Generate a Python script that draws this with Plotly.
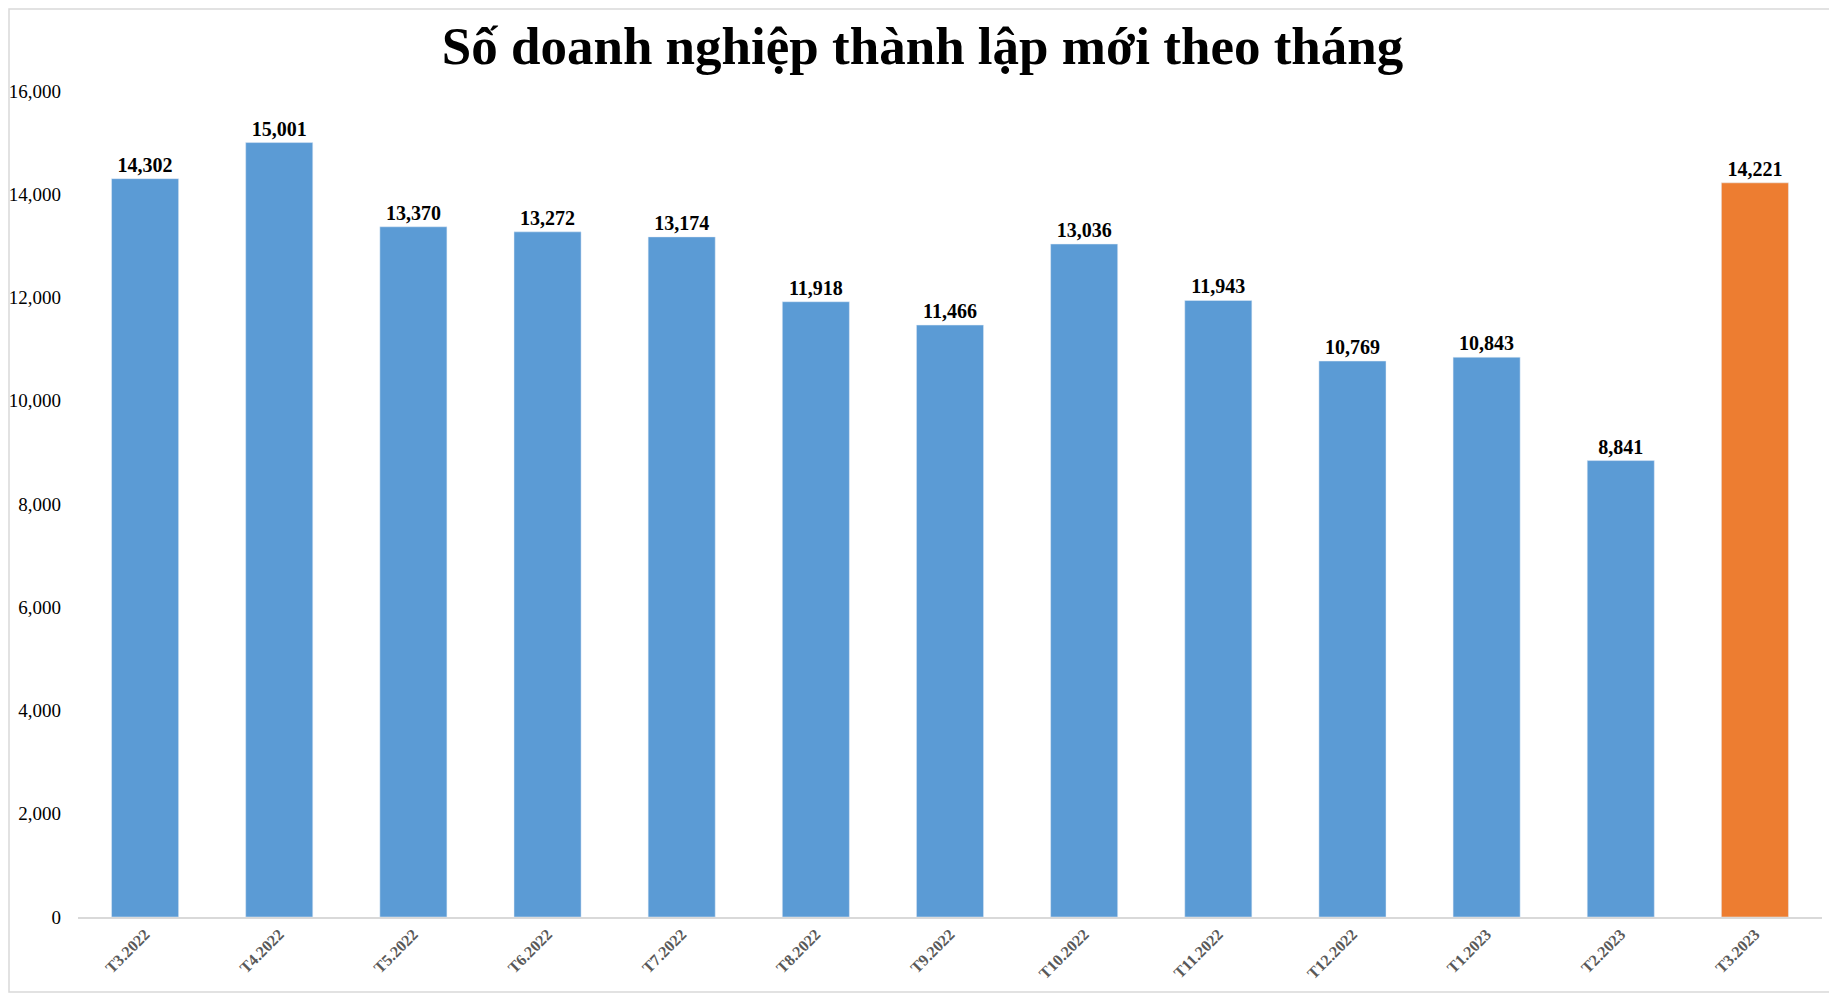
import plotly.graph_objects as go

months = ["T3.2022", "T4.2022", "T5.2022", "T6.2022", "T7.2022", "T8.2022", "T9.2022",
          "T10.2022", "T11.2022", "T12.2022", "T1.2023", "T2.2023", "T3.2023"]
new_firms = [14302, 15001, 13370, 13272, 13174, 11918, 11466,
             13036, 11943, 10769, 10843, 8841, 14221]
bar_colors = ["#5B9BD5"] * 12 + ["#ED7D31"]

# page has an 8px body margin, so the figure is shrunk to fit the window
W, H = 1837 - 8, 994 - 8
ml, mr, mt, mb = 70, 15, 83, 77

fig = go.Figure(go.Bar(
    x=months,
    y=new_firms,
    marker_color=bar_colors,
    text=[f"{v:,}" for v in new_firms],
    textposition="outside",
    cliponaxis=False,
    textfont=dict(family="Liberation Serif", size=20, color="black", weight="bold"),
))

fig.update_layout(
    width=W, height=H,
    margin=dict(l=ml, r=mr, t=mt, b=mb),
    paper_bgcolor="white",
    plot_bgcolor="white",
    bargap=0.5,
    showlegend=False,
    title=dict(
        text="<b>Số doanh nghiệp thành lập mới theo tháng</b>",
        x=0.5, xanchor="center", y=1 - 37 / H, yanchor="middle",
        font=dict(family="Liberation Serif", size=53, color="black"),
    ),
    font=dict(family="Liberation Serif", color="black"),
)

fig.update_yaxes(
    range=[0, 16000], dtick=2000, tickformat=",d", automargin=False,
    showgrid=False, zeroline=False, showline=False,
    tickfont=dict(size=19, color="black"), ticks="", ticklabelstandoff=16,
)
fig.update_xaxes(
    showline=True, linecolor="#D9D9D9", linewidth=1.5, automargin=False,
    tickangle=-45, ticks="",
    tickfont=dict(size=16, color="#595959", weight="bold"),
)

# outer chart frame
pw, ph = W - ml - mr, H - mt - mb
fig.add_shape(
    type="rect", xref="paper", yref="paper",
    x0=-(ml - 1) / pw, x1=1 + (mr - 2) / pw,
    y0=-(mb - 2) / ph, y1=1 + (mt - 1) / ph,
    line=dict(color="#D9D9D9", width=1.5),
)

fig.write_html("out.html")
